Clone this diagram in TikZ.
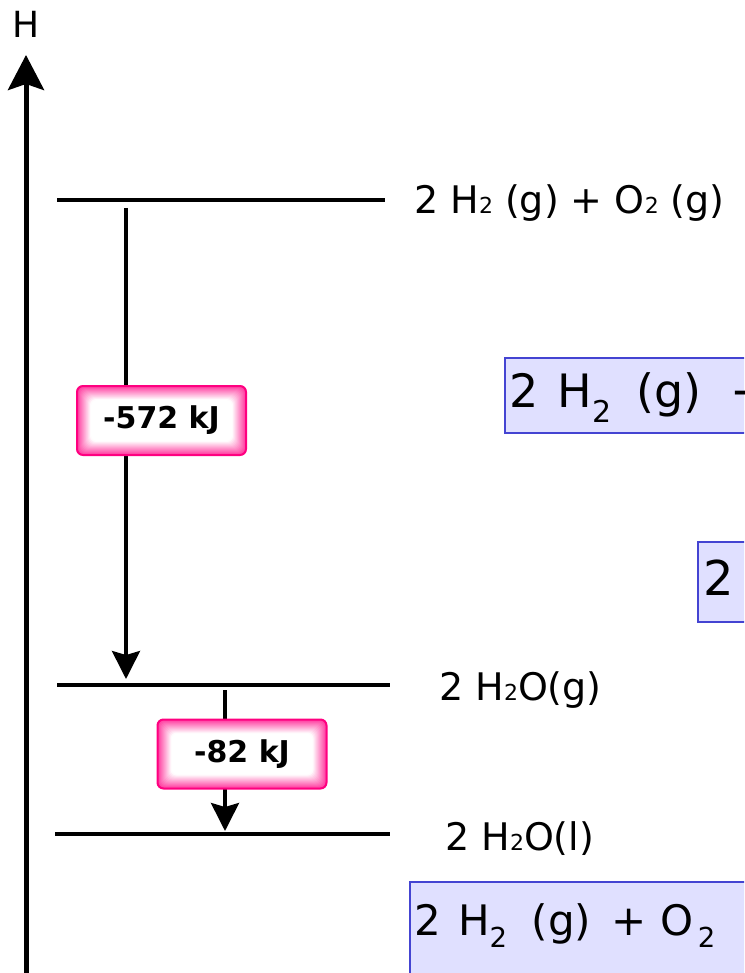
\documentclass[tikz,border=0pt]{standalone}
\usepackage{fontspec}
\setmainfont{DejaVu Sans}
\usetikzlibrary{arrows.meta}
\definecolor{pinkedge}{RGB}{255,0,128}
\definecolor{pinkglow}{RGB}{255,60,160}
\definecolor{bluefill}{RGB}{224,224,255}
\definecolor{blueedge}{RGB}{68,68,210}
\newcommand\lsub[1]{{\fontsize{22pt}{22pt}\selectfont #1}}
\newcommand\bsub[3]{\raisebox{-#2}{\fontsize{#1}{#1}\selectfont #3}}
\begin{document}
\begin{tikzpicture}[x=1pt,y=-1pt,
  levelline/.style={line width=3.2pt},
  downarrow/.style={line width=3.5pt,-{Stealth[length=28pt,width=28pt,inset=4pt]}},
  lbl/.style={anchor=base west,inner sep=0pt,font=\fontsize{38pt}{38pt}\selectfont},
  bluebox/.style={fill=bluefill,draw=blueedge,line width=2pt},
  bluetext/.style={anchor=base west,inner sep=0pt},
  glowbox/.style={draw=pinkedge,line width=2pt,rounded corners=6pt,
    minimum width=169pt,minimum height=69pt,inner sep=0pt,
    font=\fontsize{30pt}{30pt}\selectfont\bfseries,
    path picture={
      \foreach \i in {0,...,14}{
        \pgfmathsetmacro\p{int(max(0,100-\i*7.5))}
        \fill[pinkglow!\p!white]
          ([xshift=\i*1pt,yshift=-\i*1pt]path picture bounding box.north west)
          rectangle
          ([xshift=-\i*1pt,yshift=\i*1pt]path picture bounding box.south east);
      }}}
]
\useasboundingbox (0,0) rectangle (744,973);
\clip (0,0) rectangle (744,973);

% axis
\node[anchor=base,inner sep=0pt,font=\fontsize{36pt}{36pt}\selectfont] (hlab) at (26,38) {H};
\coordinate (ax0) at (26,1000);
\coordinate (ax1) at (26,55);
\draw[line width=5pt,-{Stealth[length=35pt,width=36pt,inset=6pt]}] (ax0) -- (ax1);

% levels
\coordinate (t0) at (57,200);  \coordinate (t1) at (385,200);
\coordinate (m0) at (57,685);  \coordinate (m1) at (390,685);
\coordinate (b0) at (55,834);  \coordinate (b1) at (390,834);
\draw[levelline] (t0) -- (t1);
\draw[levelline] (m0) -- (m1);
\draw[levelline] (b0) -- (b1);

\node[lbl] (l1) at (414,214) {2 H\lsub{2} (g) + O\lsub{2} (g)};
\node[lbl] (l2) at (439,700) {2 H\lsub{2}O(g)};
\node[lbl] (l3) at (445,850) {2 H\lsub{2}O(l)};

% arrows
\coordinate (a1s) at (126,208);
\coordinate (a1e) at (126,679);
\draw[downarrow] (a1s) -- (a1e);
\coordinate (a2s) at (225,690);
\coordinate (a2e) at (225,831);
\draw[downarrow] (a2s) -- (a2e);

% enthalpy boxes
\node[glowbox] (e1) at (161.5,420.5) {-572 kJ};
\node[glowbox] (e2) at (242,754) {-82 kJ};

% blue boxes (cut by the page edge)
\draw[bluebox] (505,358) rectangle (820,433);
\node[bluetext,font=\fontsize{46pt}{46pt}\selectfont] (q1) at (509.5,407)
  {2\hspace{18.7pt}H\bsub{30pt}{15pt}{2}\hspace{25pt}(g)\hspace{29pt}+};
\draw[bluebox] (698,542) rectangle (820,622);
\node[bluetext,font=\fontsize{48pt}{48pt}\selectfont] (q2) at (703,595) {2};
\draw[bluebox] (410,882) rectangle (820,1000);
\node[bluetext,font=\fontsize{42pt}{42pt}\selectfont] (q3) at (414.6,935)
  {2\hspace{16.6pt}H\bsub{27.5pt}{12pt}{2}\hspace{24.7pt}(g)\hspace{19.7pt}+\hspace{14.6pt}O\hspace{4pt}\bsub{27.5pt}{12pt}{2}};
\end{tikzpicture}
\end{document}
